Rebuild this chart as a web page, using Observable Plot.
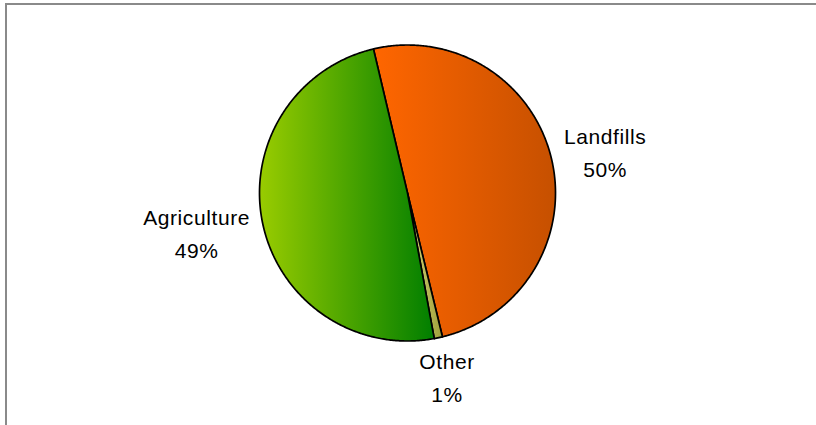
<!DOCTYPE html>
<html><head><meta charset="utf-8">
<script src="https://cdn.jsdelivr.net/npm/d3@7"></script>
<script src="https://cdn.jsdelivr.net/npm/@observablehq/plot@0.6"></script>
<style>
html,body{margin:0;padding:0;background:#fff;overflow:hidden;}
#frame{position:absolute;left:5px;top:3px;width:840px;height:450px;border-left:2px solid #8a8a8a;border-top:2px solid #8a8a8a;}
#chart{position:absolute;left:0;top:0;}
</style></head><body>
<div id="frame"></div>
<div id="chart"></div>
<script>
// ---- data ----
const categories = ["Landfills", "Other", "Agriculture"];
const values = [49.9, 0.9, 49.2];
const percentLabels = ["50%", "1%", "49%"];

// ---- style config ----
const gradientStops = [
  ["#FF6600", "#C65000"],
  ["#D8D878", "#9E9E3A"],
  ["#99CC00", "#007E00"]
];
const W = 816, H = 425, cx = 407, cy = 192.5, R = 148;
const startDeg = -13.3;
const fontSize = 21, lineHeight = 33 / 21, letterSp = 0.6, labelGap = 14;

const rows = categories.map((c, i) => ({category: c, value: values[i], pct: percentLabels[i], i}));
const start = startDeg * Math.PI / 180;
const arcs = d3.pie().sort(null).value(d => d.value).startAngle(start).endAngle(start + 2 * Math.PI)(rows);

const slices = arcs.map(a => {
  const pts = [{x: 0, y: 0}];
  const n = Math.max(2, Math.ceil((a.endAngle - a.startAngle) / (Math.PI / 360)));
  for (let k = 0; k <= n; k++) {
    const t = a.startAngle + (a.endAngle - a.startAngle) * k / n;
    pts.push({x: Math.sin(t), y: Math.cos(t)});
  }
  pts.push({x: 0, y: 0});
  return {i: a.data.i, points: pts};
});

// label placement: anchor just outside the circle at the slice mid-angle,
// label box pushed outward by half its size along that direction
const ctx = document.createElement("canvas").getContext("2d");
ctx.font = `${fontSize}px "Liberation Sans"`;
const labels = arcs.map(a => {
  const d = a.data;
  const lines = [d.category, d.pct];
  const w = Math.max(...lines.map(s => ctx.measureText(s).width + letterSp * s.length));
  const h = fontSize * 0.72 + fontSize * lineHeight;
  const m = (a.startAngle + a.endAngle) / 2;
  const sx = Math.sin(m), sy = Math.cos(m);
  const px = sx * (R + labelGap) + sx * w / 2;
  const py = sy * (R + labelGap) + sy * h / 2;
  return {x: px / R, y: py / R, text: lines.join("\n")};
});

function defs() {
  const d = d3.create("svg:defs");
  gradientStops.forEach((st, i) => {
    const g = d.append("linearGradient").attr("id", "pg-" + i).attr("x1", 0).attr("x2", 1).attr("y1", 0).attr("y2", 0);
    g.append("stop").attr("offset", "0%").attr("stop-color", st[0]);
    g.append("stop").attr("offset", "100%").attr("stop-color", st[1]);
  });
  return d.node();
}

const chart = Plot.plot({
  width: W, height: H, margin: 0,
  x: {domain: [-1, 1], range: [cx - R, cx + R], axis: null},
  y: {domain: [-1, 1], range: [cy + R, cy - R], axis: null},
  style: {background: "transparent", fontFamily: "'Liberation Sans', Arial, sans-serif", letterSpacing: letterSp + "px", overflow: "visible", maxWidth: "none"},
  marks: [
    defs,
    ...slices.map(s => Plot.line(s.points, {x: "x", y: "y", fill: `url(#pg-${s.i})`, stroke: "black", strokeWidth: 1.7, strokeLinejoin: "round"})),
    Plot.text(labels, {x: "x", y: "y", text: "text", fontSize, lineHeight, fill: "black", fontFamily: "'Liberation Sans', Arial, sans-serif"})
  ]
});
document.getElementById("chart").appendChild(chart);
</script>
</body></html>
